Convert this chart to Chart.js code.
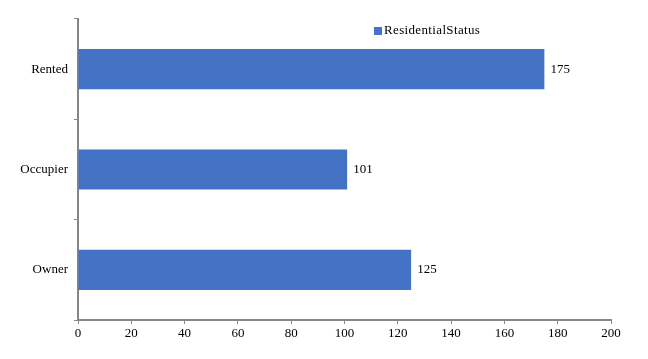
<!DOCTYPE html>
<html><head><meta charset="utf-8">
<script src="https://cdn.jsdelivr.net/npm/chart.js@4/dist/chart.umd.min.js"></script>
<style>html,body{margin:0;padding:0;background:#fff}#wrap{width:648px;height:359px}</style>
</head><body><div id="wrap"><canvas id="c" width="648" height="359"></canvas></div>
<script>
const categories = ["Rented", "Occupier", "Owner"];
const values = [175, 101, 125];
const seriesName = "ResidentialStatus";
const xMin = 0, xMax = 200, xStep = 20;

const FONT = "'Liberation Serif', 'Times New Roman', serif";
const BLUE = "#4472C4";
const AXIS = "#868686";

const labelsPlugin = {
  id: 'vals',
  afterDatasetsDraw(chart) {
    const ctx = chart.ctx;
    const meta = chart.getDatasetMeta(0);
    ctx.save();
    ctx.font = "13px " + FONT;
    ctx.fillStyle = "#000";
    ctx.textBaseline = "middle";
    ctx.textAlign = "left";
    meta.data.forEach((el, i) => {
      ctx.fillText(String(values[i]), el.x + 6, el.y);
    });
    // legend
    ctx.fillStyle = BLUE;
    ctx.fillRect(374, 27, 8, 8);
    ctx.fillStyle = "#000";
    if ('letterSpacing' in ctx) ctx.letterSpacing = "0.35px";
    ctx.fillText(seriesName, 384, 31);
    ctx.restore();
  }
};

new Chart(document.getElementById('c'), {
  type: 'bar',
  data: {
    labels: categories,
    datasets: [{ label: seriesName, data: values, backgroundColor: BLUE,
      barPercentage: 0.4, categoryPercentage: 1.0 }]
  },
  options: {
    indexAxis: 'y',
    responsive: false,
    animation: false,
    layout: { padding: { left: 0, right: 37, top: 19, bottom: 0 } },
    plugins: { legend: { display: false }, tooltip: { enabled: false } },
    scales: {
      x: {
        min: xMin, max: xMax,
        ticks: { stepSize: xStep, color: "#000", font: { family: FONT, size: 13 }, padding: 2 },
        grid: { drawOnChartArea: false, tickLength: 4, color: AXIS },
        border: { color: AXIS, width: 2 },
        afterFit(s) { s.height = 39; }
      },
      y: {
        ticks: { color: "#000", font: { family: FONT, size: 13 }, padding: 6 },
        grid: { drawOnChartArea: false, tickLength: 4, color: AXIS, offset: true },
        border: { color: AXIS, width: 2 },
        afterFit(s) { s.width = 78; }
      }
    }
  },
  plugins: [labelsPlugin]
});
</script></body></html>
